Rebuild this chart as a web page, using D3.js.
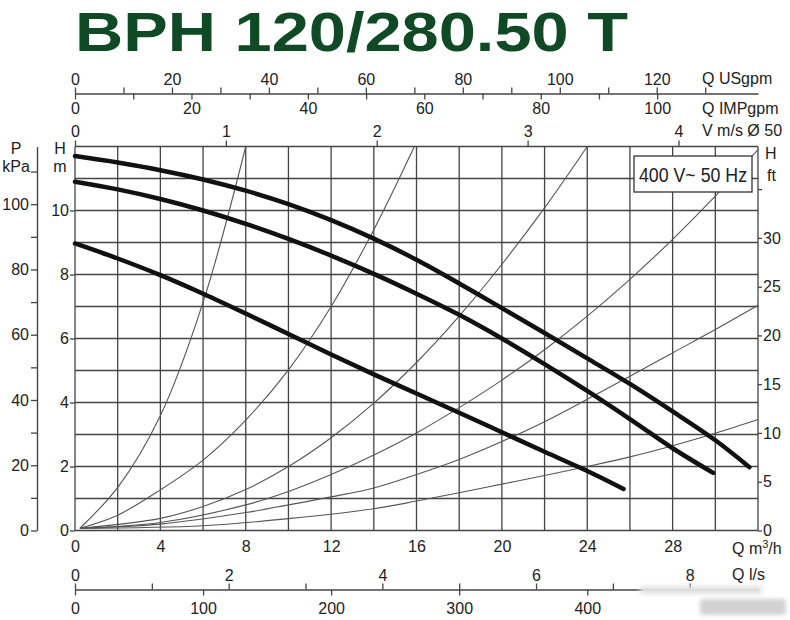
<!DOCTYPE html>
<html>
<head>
<meta charset="utf-8">
<script src="https://cdn.jsdelivr.net/npm/d3@7"></script>
<style>
  body { margin: 0; background: #fff; }
  text { font-family: "Liberation Sans", Arial, sans-serif; fill: #222; }
</style>
</head>
<body>
<script>
// values: Q in m3/h, H in m
var flowTicks = [0, 4, 8, 12, 16, 20, 24, 28];
var headTicks = [0, 2, 4, 6, 8, 10];
var kpaTicks = d3.range(0, 111, 10);
var ftTicks = d3.range(0, 36, 5);
var usTicks = d3.range(0, 131, 10);
var impTicks = d3.range(0, 101, 10);
var velTicks = [0, 1, 2, 3, 4];
var lsTicks = d3.range(0, 9, 1);
var lminTicks = [0, 100, 200, 300, 400];

// pump curves, three speeds
var q3 = [0, 2, 4, 6, 8, 10, 12, 14, 16, 18, 20, 22, 24, 26, 28, 30, 31.6];
var h3 = [11.70, 11.50, 11.26, 10.97, 10.62, 10.20, 9.70, 9.12, 8.46, 7.72, 6.95, 6.17, 5.38, 4.58, 3.72, 2.82, 1.98];
var q2 = [0, 2, 4, 6, 8, 10, 12, 14, 16, 18, 20, 22, 24, 26, 28, 29.9];
var h2 = [10.90, 10.66, 10.36, 10.0, 9.58, 9.11, 8.59, 8.02, 7.40, 6.74, 6.0, 5.2, 4.36, 3.48, 2.57, 1.8];
var q1 = [0, 2, 4, 6, 8, 10, 12, 14, 16, 18, 20, 22, 24, 25.7];
var h1 = [8.97, 8.50, 7.98, 7.40, 6.78, 6.14, 5.50, 4.88, 4.28, 3.68, 3.07, 2.46, 1.86, 1.30];

// thin system curves
var sysA = [[0.23, 0.07], [2.03, 1.37], [3.98, 3.56], [6.01, 7.15], [8, 12]];
var sysB = [[0.23, 0.07], [2, 0.48], [4, 1.27], [6, 2.2], [8, 3.45], [10, 5.02], [12, 7.0], [14, 9.4], [15.9, 12]];
var sysC = [[0.23, 0.07], [4, 0.38], [6, 0.75], [8, 1.28], [10, 2.0], [12, 2.9], [14, 3.98], [16, 5.25], [18, 6.7], [20, 8.32], [22, 10.08], [24, 12]];
var sysD = [[0.23, 0.07], [4, 0.25], [8, 0.8], [10, 1.22], [12, 1.75], [14, 2.36], [16, 3.05], [18, 3.84], [20, 4.7], [22, 5.65], [24, 6.7], [26, 7.85], [28, 9.1], [30, 10.45], [32, 11.9]];
var sysE = [[0.23, 0.07], [4, 0.2], [8, 0.56], [10, 0.8], [12, 1.05], [14, 1.33], [16, 1.75], [18, 2.22], [20, 2.78], [22, 3.4], [24, 4.1], [26, 4.82], [28, 5.55], [30, 6.28], [32, 7.04]];
var sysF = [[0.23, 0.07], [6, 0.15], [10, 0.37], [14, 0.68], [16, 0.92], [18, 1.18], [20, 1.45], [22, 1.72], [24, 2.0], [26, 2.3], [28, 2.65], [30, 3.04], [32, 3.47]];

var flowMax = 32, headMax = 12;

var svg = d3.select("body").append("svg")
  .attr("width", 790)
  .attr("height", 620);

var x = d3.scaleLinear().domain([0, flowMax]).range([75, 758]);
var y = d3.scaleLinear().domain([0, headMax]).range([530.5, 146.5]);

// unit conversions for the extra axes
var xUS = d3.scaleLinear().domain([0, flowMax / 0.227125]).range(x.range());
var xIMP = d3.scaleLinear().domain([0, flowMax / 0.272765]).range(x.range());
var xV = d3.scaleLinear().domain([0, flowMax / (3600 * Math.PI * 0.025 * 0.025)]).range(x.range());
var xLs = d3.scaleLinear().domain([0, flowMax / 3.6]).range(x.range());
var xLmin = d3.scaleLinear().domain([0, flowMax / 0.06]).range(x.range());
var yKpa = d3.scaleLinear().domain([0, headMax * 9.80665]).range(y.range());
var yFt = d3.scaleLinear().domain([0, headMax / 0.3048]).range(y.range());

// title
svg.append("text")
  .attr("x", 75)
  .attr("y", 51)
  .attr("font-size", 56)
  .attr("font-weight", "bold")
  .attr("textLength", 553)
  .attr("lengthAdjust", "spacingAndGlyphs")
  .style("fill", "#0f4a24")
  .text("BPH 120/280.50 T");

// grid
var grid = svg.append("g").attr("stroke", "#444").attr("stroke-width", 1.3);
grid.selectAll("line.v")
  .data(d3.range(0, flowMax + 1, 2))
  .enter().append("line")
    .attr("x1", d => x(d)).attr("x2", d => x(d))
    .attr("y1", y(0)).attr("y2", y(headMax));
grid.selectAll("line.h")
  .data(d3.range(0, headMax + 1, 1))
  .enter().append("line")
    .attr("x1", x(0)).attr("x2", x(flowMax))
    .attr("y1", d => y(d)).attr("y2", d => y(d));

function styleAxis(g, size) {
  g.selectAll("path.domain").attr("stroke", "#444").attr("stroke-width", 1.4);
  g.selectAll(".tick line").attr("stroke", "#444").attr("stroke-width", 1.3);
  g.selectAll("text").attr("font-size", size || 16).attr("font-family", null).style("fill", "#222");
}

// left H axis (m)
svg.append("g")
  .attr("transform", "translate(" + x(0) + ",0)")
  .call(d3.axisLeft(y).tickValues(headTicks).tickSize(5).tickPadding(1).tickSizeOuter(0))
  .call(g => g.select("path.domain").remove())
  .call(styleAxis);

// P axis (kPa)
svg.append("g")
  .attr("transform", "translate(37,0)")
  .call(d3.axisLeft(yKpa).tickValues(kpaTicks).tickSize(6).tickPadding(2).tickSizeOuter(0)
    .tickFormat(d => d % 20 === 0 ? d : ""))
  .call(styleAxis);

// right H axis (ft)
svg.append("g")
  .attr("transform", "translate(" + x(flowMax) + ",0)")
  .call(d3.axisRight(yFt).tickValues(ftTicks).tickSize(4).tickPadding(1).tickSizeOuter(0)
    .tickFormat(d => d <= 30 ? d : ""))
  .call(g => g.select("path.domain").remove())
  .call(styleAxis);

// velocity axis on top of the grid
svg.append("g")
  .attr("transform", "translate(0," + y(headMax) + ")")
  .call(d3.axisTop(xV).tickValues(velTicks).tickSize(6).tickPadding(4).tickSizeOuter(0)
    .tickFormat(d3.format("d")))
  .call(g => g.select("path.domain").remove())
  .call(styleAxis);

// gpm axes
svg.append("g")
  .attr("transform", "translate(0,93.5)")
  .call(d3.axisTop(xUS).tickValues(usTicks).tickSize(6).tickSizeOuter(0)
    .tickFormat(d => d % 20 === 0 && d <= 120 ? d : ""))
  .call(styleAxis);
svg.append("g")
  .attr("transform", "translate(0,93.5)")
  .call(d3.axisBottom(xIMP).tickValues(impTicks).tickSize(6).tickSizeOuter(0)
    .tickFormat(d => d % 20 === 0 ? d : ""))
  .call(g => g.select("path.domain").remove())
  .call(styleAxis);

// Q m3/h labels under the grid
svg.append("g")
  .attr("transform", "translate(0," + y(0) + ")")
  .call(d3.axisBottom(x).tickValues(flowTicks).tickSize(0).tickPadding(10))
  .call(g => g.select("path.domain").remove())
  .call(styleAxis);

// l/s and l/min axes
svg.append("g")
  .attr("transform", "translate(0,589.5)")
  .call(d3.axisTop(xLs).tickValues(lsTicks).tickSize(6).tickSizeOuter(0)
    .tickFormat(d => d % 2 === 0 ? d : ""))
  .call(styleAxis);
svg.append("g")
  .attr("transform", "translate(0,589.5)")
  .call(d3.axisBottom(xLmin).tickValues(lminTicks).tickSize(6).tickPadding(7).tickSizeOuter(0))
  .call(g => g.select("path.domain").remove())
  .call(styleAxis);

// unit labels
var labels = [
  ["P", 16, 154, "middle"], ["kPa", 16, 172, "middle"],
  ["H", 60, 154, "middle"], ["m", 60, 172, "middle"],
  ["H", 765, 159, "start"], ["ft", 767, 181, "start"],
  ["Q USgpm", 702, 84, "start"], ["Q IMPgpm", 702, 114, "start"],
  ["V m/s Ø 50", 702, 136, "start"],
  ["Q l/s", 732, 580, "start"]
];
svg.selectAll("text.unit")
  .data(labels)
  .enter().append("text")
    .attr("class", "unit")
    .attr("x", d => d[1]).attr("y", d => d[2])
    .attr("text-anchor", d => d[3])
    .attr("font-size", 16)
    .text(d => d[0]);

var qm = svg.append("text").attr("x", 732).attr("y", 554).attr("font-size", 16);
qm.append("tspan").text("Q m");
qm.append("tspan").attr("font-size", 11).attr("dy", -6).text("3");
qm.append("tspan").attr("dy", 6).text("/h");

// system curves
var thin = d3.line().x(d => x(d[0])).y(d => y(d[1])).curve(d3.curveCatmullRom.alpha(0.5));
svg.append("g")
  .selectAll("path")
  .data([sysA, sysB, sysC, sysD, sysE, sysF])
  .enter().append("path")
    .attr("d", thin)
    .attr("fill", "none")
    .attr("stroke", "#555")
    .attr("stroke-width", 1.1);

// pump curves
var pumps = [d3.zip(q1, h1), d3.zip(q2, h2), d3.zip(q3, h3)];
var thick = d3.line().x(d => x(d[0])).y(d => y(d[1])).curve(d3.curveCatmullRom.alpha(0.5));
svg.append("g")
  .selectAll("path")
  .data(pumps)
  .enter().append("path")
    .attr("d", thick)
    .attr("fill", "none")
    .attr("stroke", "#111")
    .attr("stroke-width", 4.5)
    .attr("stroke-linecap", "round");

// voltage box
svg.append("rect")
  .attr("x", 634).attr("y", 156)
  .attr("width", 118).attr("height", 36)
  .attr("fill", "#fff")
  .attr("stroke", "#333")
  .attr("stroke-width", 1.3);
svg.append("text")
  .attr("x", 693).attr("y", 182)
  .attr("text-anchor", "middle")
  .attr("font-size", 20)
  .attr("textLength", 108)
  .attr("lengthAdjust", "spacingAndGlyphs")
  .text("400 V~ 50 Hz");

// faint watermark bottom right
var defs = svg.append("defs");
defs.append("filter").attr("id", "blur")
  .append("feGaussianBlur").attr("stdDeviation", 2);
var wm = svg.append("g").attr("filter", "url(#blur)");
wm.append("rect").attr("x", 640).attr("y", 586).attr("width", 122).attr("height", 8).attr("fill", "#e2e2e2");
wm.append("rect").attr("x", 700).attr("y", 599).attr("width", 86).attr("height", 16).attr("rx", 4).attr("fill", "#d2d2d2");
</script>
</body>
</html>
